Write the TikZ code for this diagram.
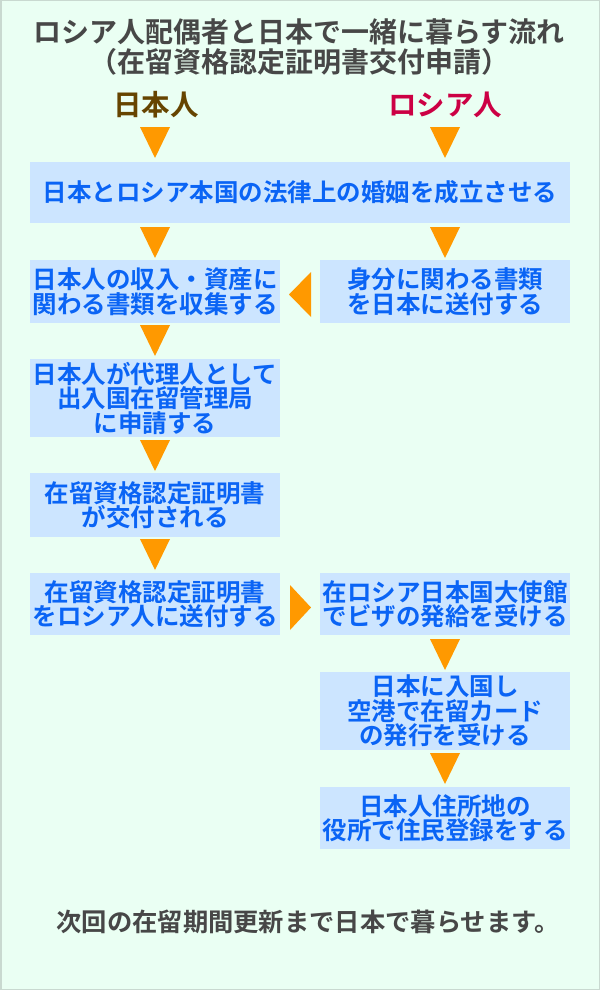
\documentclass[tikz,border=0pt]{standalone}
\usepackage{fontspec}
\setmainfont{Noto Sans CJK JP}[BoldFont={Noto Sans CJK JP Bold}]
\definecolor{bgc}{HTML}{EAFFF3}
\definecolor{bdc}{HTML}{C9D9D0}
\definecolor{boxc}{HTML}{CCE5FF}
\definecolor{txtb}{HTML}{0A64F5}
\definecolor{orng}{HTML}{FF9900}
\definecolor{grayt}{HTML}{474747}
\definecolor{brownt}{HTML}{664400}
\definecolor{redt}{HTML}{CC0044}
\tikzset{
  flowbox/.style={fill=boxc, draw=none, text=txtb, align=center, inner sep=0pt,
    font=\bfseries\fontsize{24.5}{24.5}\selectfont},
  tri/.style={fill=orng, draw=none},
}
\newcommand{\dtri}[2]{\fill[tri] (#1-15,#2) -- (#1+15,#2) -- (#1,#2+31) -- cycle;}
\begin{document}
\begin{tikzpicture}[x=1pt,y=-1pt]
\useasboundingbox (0,0) rectangle (600,990);
\draw[fill=bgc, draw=bdc, line width=1.5pt] (0.75,0.75) rectangle (599.25,989.25);
\node[text=grayt, align=center, font=\bfseries\fontsize{28}{30}\selectfont] (title) at (299,47) {ロシア人配偶者と日本で一緒に暮らす流れ\\（在留資格認定証明書交付申請）};
\node[text=brownt, font=\bfseries\fontsize{28.5}{28}\selectfont] (jp) at (156,105) {日本人};
\node[text=redt, font=\bfseries\fontsize{28.5}{28}\selectfont] (ru) at (445,105) {ロシア人};
% boxes
\node[flowbox, minimum width=540, minimum height=61] (b1) at (300,192.5) {日本とロシア本国の法律上の婚姻を成立させる};
\node[flowbox, minimum width=250, minimum height=63] (b2l) at (155,291.5) {日本人の収入・資産に\\関わる書類を収集する};
\node[flowbox, minimum width=250, minimum height=63] (b2r) at (445,291.5) {身分に関わる書類\\を日本に送付する};
\node[flowbox, minimum width=250, minimum height=78] (b3) at (155,398) {日本人が代理人として\\出入国在留管理局\\に申請する};
\node[flowbox, minimum width=250, minimum height=64] (b4) at (155,505) {在留資格認定証明書\\が交付される};
\node[flowbox, minimum width=250, minimum height=62] (b5l) at (155,604) {在留資格認定証明書\\をロシア人に送付する};
\node[flowbox, minimum width=250, minimum height=62] (b5r) at (445,604) {在ロシア日本国大使館\\でビザの発給を受ける};
\node[flowbox, minimum width=250, minimum height=78] (b6) at (445,711) {日本に入国し\\空港で在留カード\\の発行を受ける};
\node[flowbox, minimum width=250, minimum height=62] (b7) at (445,818) {日本人住所地の\\役所で住民登録をする};
% arrows
\dtri{155}{127}
\dtri{445}{127}
\dtri{155}{227}
\dtri{445}{227}
\dtri{155}{325}
\dtri{155}{440}
\dtri{155}{539}
\dtri{445}{639}
\dtri{445}{753}
\fill[tri] (311,272) -- (311,317) -- (289,294.5) -- cycle;
\fill[tri] (290,585) -- (290,630) -- (311,607.5) -- cycle;
\node[text=grayt, font=\bfseries\fontsize{25.3}{25.3}\selectfont] (foot) at (308,922) {次回の在留期間更新まで日本で暮らせます。};
\end{tikzpicture}
\end{document}
